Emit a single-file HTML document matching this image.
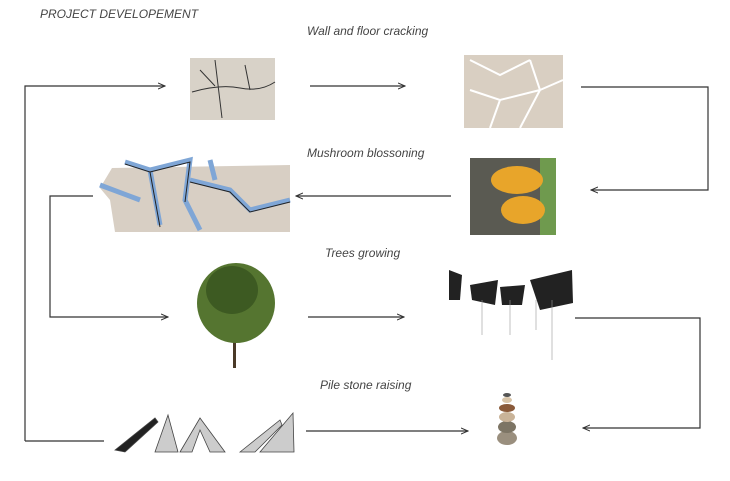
<!DOCTYPE html>
<html><head><meta charset="utf-8"><style>
body{margin:0;background:#fff;width:730px;height:481px;overflow:hidden}
svg{display:block}
text{font-family:"Liberation Sans",sans-serif;font-style:italic;fill:#444}
</style></head><body>
<svg width="730" height="481" viewBox="0 0 730 481">
<defs><marker id="a" markerWidth="8" markerHeight="8" refX="7" refY="4" orient="auto" markerUnits="userSpaceOnUse"><path d="M0,1 L7,4 L0,7" fill="none" stroke="#333" stroke-width="1"/></marker></defs>
<text x="40" y="18" font-size="12">PROJECT DEVELOPEMENT</text>
<text x="307" y="35" font-size="12">Wall and floor cracking</text>
<text x="307" y="157" font-size="12">Mushroom blossoning</text>
<text x="325" y="257" font-size="12">Trees growing</text>
<text x="320" y="389" font-size="12">Pile stone raising</text>
<g stroke="#333" stroke-width="1.2" fill="none">
<path d="M25,441 H104 M25,441 V86 H165" marker-end="url(#a)"/>
<path d="M310,86 H405" marker-end="url(#a)"/>
<path d="M581,87 H708 V190 H591" marker-end="url(#a)"/>
<path d="M451,196 H296" marker-end="url(#a)"/>
<path d="M93,196 H50 V317 H168" marker-end="url(#a)"/>
<path d="M308,317 H404" marker-end="url(#a)"/>
<path d="M575,318 H700 V428 H583" marker-end="url(#a)"/>
<path d="M306,431 H468" marker-end="url(#a)"/>
</g>
<!-- cracked floor -->
<rect x="190" y="58" width="85" height="62" fill="#d8d2c8"/>
<path d="M192,92 Q220,84 240,88 T275,82 M215,60 L222,118 M245,65 L250,90 M200,70 L215,86" stroke="#333" fill="none" stroke-width="1"/>
<!-- tiles -->
<rect x="464" y="55" width="99" height="73" fill="#d9cfc2"/>
<path d="M470,60 L500,75 L530,60 M530,60 L540,90 L520,128 M470,90 L500,100 L540,90 M500,100 L490,128 M540,90 L563,80" stroke="#fff" stroke-width="2" fill="none"/>
<!-- mushroom -->
<rect x="470" y="158" width="86" height="77" fill="#5a5a52"/>
<rect x="540" y="158" width="16" height="77" fill="#6f9a4e"/>
<ellipse cx="517" cy="180" rx="26" ry="14" fill="#e8a52a"/>
<ellipse cx="523" cy="210" rx="22" ry="14" fill="#e8a52a"/>
<!-- blue cracks -->
<path d="M112,168 L290,165 L290,232 L115,232 L110,200 L100,188 Z" fill="#d8cfc4"/>
<path d="M125,162 L150,170 L160,225 M150,170 L190,160 L185,200 L200,230 M190,180 L230,190 L250,210 L290,200 M210,160 L215,180 M100,185 L140,200" stroke="#7fa6d6" stroke-width="5" fill="none"/>
<path d="M125,164 L150,172 L160,227 M150,172 L190,162 L185,202 M190,182 L230,192 L250,212 L290,202" stroke="#222" stroke-width="1" fill="none"/>
<!-- tree -->
<rect x="233" y="320" width="3" height="48" fill="#4a3a28"/>
<ellipse cx="236" cy="303" rx="39" ry="40" fill="#557530"/>
<ellipse cx="232" cy="290" rx="26" ry="24" fill="#3d5a22"/>
<!-- bw trees -->
<g fill="#222"><path d="M449,270 L462,275 L460,300 L449,300 Z"/><path d="M470,285 L498,280 L495,305 L472,300 Z"/><path d="M500,287 L525,285 L522,305 L502,305 Z"/><path d="M530,280 L572,270 L573,303 L540,310 Z"/></g>
<g stroke="#999" stroke-width="0.6"><path d="M482,300 V335 M510,300 V335 M536,300 V330 M552,300 V360"/></g>
<!-- stones -->
<ellipse cx="507" cy="438" rx="10" ry="7" fill="#9a8f7e"/>
<ellipse cx="507" cy="427" rx="9" ry="6" fill="#7d7565"/>
<ellipse cx="507" cy="417" rx="8" ry="5" fill="#c9b398"/>
<ellipse cx="507" cy="408" rx="8" ry="4" fill="#8a5a3a"/>
<ellipse cx="507" cy="400" rx="5" ry="3" fill="#d8c4a8"/>
<ellipse cx="507" cy="395" rx="4" ry="2" fill="#555"/>
<!-- tents -->
<g stroke="#444" fill="#ccc" stroke-width="0.8">
<path d="M115,450 L155,418 L158,422 L125,452 Z" fill="#222"/>
<path d="M155,452 L168,415 L178,452 Z"/>
<path d="M180,452 L200,418 L225,452 L210,452 L200,430 L192,452 Z"/>
<path d="M240,452 L280,420 L282,425 L255,452 Z"/>
<path d="M260,452 L293,413 L294,452 Z"/>
</g>
</svg>
</body></html>
